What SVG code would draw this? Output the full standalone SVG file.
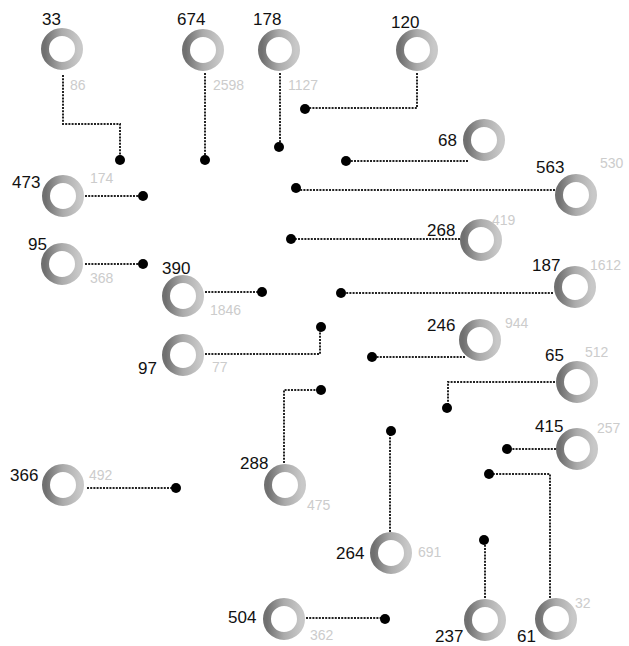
<svg xmlns="http://www.w3.org/2000/svg" width="629" height="646" viewBox="0 0 629 646">
<style>
.ring{fill:none;stroke:url(#rg);stroke-width:8}
.lbl{font-family:"Liberation Sans",Arial,sans-serif;font-size:17px;fill:#111}
.sub{font-family:"Liberation Sans",Arial,sans-serif;font-size:14px;fill:#cccccc}
.wire{fill:none;stroke:#222;stroke-width:2;stroke-dasharray:2 1.2}
.dot{fill:#000}
</style>
<defs>
<linearGradient id="rg" x1="0" y1="0" x2="1" y2="0">
<stop offset="0" stop-color="#707070"/>
<stop offset="0.5" stop-color="#ababab"/>
<stop offset="1" stop-color="#c8c8c8"/>
</linearGradient>
</defs>
<rect width="629" height="646" fill="#fff"/>
<g id="connectors">
<path class="wire" d="M63 75 V124 H120 V160"/>
<path class="wire" d="M205 73 V160"/>
<path class="wire" d="M280 73 V147"/>
<path class="wire" d="M417 73 V108 H305"/>
<path class="wire" d="M468 161 H347"/>
<path class="wire" d="M555 190 H296"/>
<path class="wire" d="M460 239 H291"/>
<path class="wire" d="M553 293 H341"/>
<path class="wire" d="M465 357 H372"/>
<path class="wire" d="M555 382 H448 V408"/>
<path class="wire" d="M556 449 H507"/>
<path class="wire" d="M550 598 V474 H489"/>
<path class="wire" d="M485 598 V540"/>
<path class="wire" d="M390 532 V431"/>
<path class="wire" d="M306 618 H385"/>
<path class="wire" d="M87 488 H176"/>
<path class="wire" d="M284 463 V390 H321"/>
<path class="wire" d="M205 354 H320 V327"/>
<path class="wire" d="M205 292 H262"/>
<path class="wire" d="M85 264 H143"/>
<path class="wire" d="M85 196 H143"/>
<circle class="dot" cx="120" cy="160" r="5"/>
<circle class="dot" cx="205" cy="160" r="5"/>
<circle class="dot" cx="279" cy="147" r="5"/>
<circle class="dot" cx="305" cy="109" r="5"/>
<circle class="dot" cx="346" cy="161" r="5"/>
<circle class="dot" cx="296" cy="188" r="5"/>
<circle class="dot" cx="291" cy="239" r="5"/>
<circle class="dot" cx="341" cy="293" r="5"/>
<circle class="dot" cx="372" cy="357" r="5"/>
<circle class="dot" cx="447" cy="408" r="5"/>
<circle class="dot" cx="507" cy="449" r="5"/>
<circle class="dot" cx="489" cy="474" r="5"/>
<circle class="dot" cx="484" cy="540" r="5"/>
<circle class="dot" cx="391" cy="431" r="5"/>
<circle class="dot" cx="385" cy="619" r="5"/>
<circle class="dot" cx="176" cy="488" r="5"/>
<circle class="dot" cx="321" cy="390" r="5"/>
<circle class="dot" cx="321" cy="327" r="5"/>
<circle class="dot" cx="262" cy="292" r="5"/>
<circle class="dot" cx="143" cy="264" r="5"/>
<circle class="dot" cx="143" cy="196" r="5"/>
</g>
<g id="n33"><circle class="ring" cx="62" cy="49" r="17"/><text class="lbl" x="42" y="25">33</text><text class="sub" x="70" y="90">86</text></g>
<g id="n674"><circle class="ring" cx="203" cy="50" r="17"/><text class="lbl" x="177" y="25">674</text><text class="sub" x="213" y="90">2598</text></g>
<g id="n178"><circle class="ring" cx="279" cy="50" r="17"/><text class="lbl" x="253" y="25">178</text><text class="sub" x="288" y="90">1127</text></g>
<g id="n120"><circle class="ring" cx="417" cy="50" r="17"/><text class="lbl" x="391" y="28">120</text></g>
<g id="n68"><circle class="ring" cx="484" cy="140" r="17"/><text class="lbl" x="438" y="146">68</text></g>
<g id="n563"><circle class="ring" cx="576" cy="195" r="17"/><text class="lbl" x="536" y="173">563</text><text class="sub" x="600" y="168">530</text></g>
<g id="n268"><circle class="ring" cx="481" cy="240" r="17"/><text class="lbl" x="427" y="236">268</text><text class="sub" x="492" y="225">419</text></g>
<g id="n187"><circle class="ring" cx="575" cy="287" r="17"/><text class="lbl" x="532" y="271">187</text><text class="sub" x="590" y="270">1612</text></g>
<g id="n246"><circle class="ring" cx="480" cy="340" r="17"/><text class="lbl" x="427" y="331">246</text><text class="sub" x="505" y="328">944</text></g>
<g id="n65"><circle class="ring" cx="577" cy="382" r="17"/><text class="lbl" x="545" y="361">65</text><text class="sub" x="585" y="357">512</text></g>
<g id="n415"><circle class="ring" cx="577" cy="449" r="17"/><text class="lbl" x="535" y="432">415</text><text class="sub" x="597" y="433">257</text></g>
<g id="n61"><circle class="ring" cx="556" cy="619" r="17"/><text class="lbl" x="517" y="642">61</text><text class="sub" x="575" y="608">32</text></g>
<g id="n237"><circle class="ring" cx="485" cy="620" r="17"/><text class="lbl" x="435" y="642">237</text></g>
<g id="n264"><circle class="ring" cx="391" cy="553" r="17"/><text class="lbl" x="336" y="559">264</text><text class="sub" x="418" y="557">691</text></g>
<g id="n504"><circle class="ring" cx="284" cy="619" r="17"/><text class="lbl" x="228" y="623">504</text><text class="sub" x="310" y="640">362</text></g>
<g id="n366"><circle class="ring" cx="63" cy="485" r="17"/><text class="lbl" x="10" y="481">366</text><text class="sub" x="89" y="480">492</text></g>
<g id="n288"><circle class="ring" cx="285" cy="485" r="17"/><text class="lbl" x="240" y="469">288</text><text class="sub" x="307" y="510">475</text></g>
<g id="n97"><circle class="ring" cx="183" cy="355" r="17"/><text class="lbl" x="138" y="374">97</text><text class="sub" x="212" y="372">77</text></g>
<g id="n390"><circle class="ring" cx="183" cy="296" r="17"/><text class="lbl" x="162" y="274">390</text><text class="sub" x="210" y="315">1846</text></g>
<g id="n95"><circle class="ring" cx="62" cy="264" r="17"/><text class="lbl" x="28" y="250">95</text><text class="sub" x="90" y="283">368</text></g>
<g id="n473"><circle class="ring" cx="63" cy="196" r="17"/><text class="lbl" x="12" y="188">473</text><text class="sub" x="90" y="183">174</text></g>
</svg>
